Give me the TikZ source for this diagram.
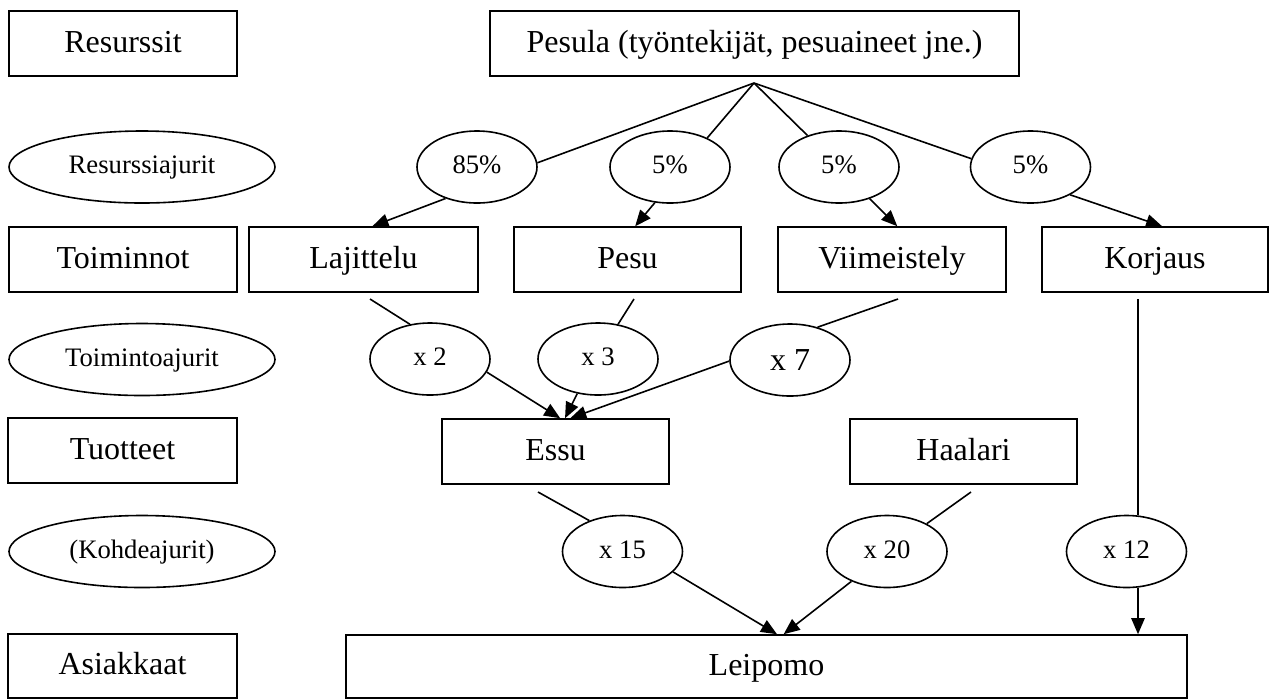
\documentclass[tikz,border=0pt]{standalone}
\usepackage{fontspec}
\setmainfont{Liberation Serif}
\usetikzlibrary{arrows.meta,shapes.geometric}

\begin{document}
\begin{tikzpicture}[x=0.375pt,y=-0.375pt,
  every node/.style={inner sep=0pt, line width=0.6pt},
  box/.style={draw, rectangle, minimum height=24.375pt, text height=9pt, text depth=2.6pt,
    font=\fontsize{12}{14}\selectfont},
  oval/.style={draw, ellipse, minimum width=45pt, minimum height=27pt, text height=7.2pt, text depth=2.2pt,
    font=\fontsize{10}{12}\selectfont},
  bigoval/.style={oval, minimum width=99.75pt},
  link/.style={line width=0.6pt},
  arr/.style={link, -{Triangle[length=6pt,width=5pt]}}
]
\path[fill=white, use as bounding box] (0,0) rectangle (1269,699);

% level 1: resources
\node[box, minimum width=85.5pt] (resurssit) at (123,43.5) {Resurssit};
\node[box, minimum width=198.375pt] (pesula) at (754.5,43.5) {Pesula (työntekijät, pesuaineet jne.)};

% resource drivers
\node[bigoval] (rajurit) at (142,167) {Resurssiajurit};
\node[oval] (p85) at (477,167) {85\%};
\node[oval] (p5a) at (670,167) {5\%};
\node[oval] (p5b) at (839,167) {5\%};
\node[oval] (p5c) at (1030.5,167) {5\%};

% activities
\node[box, minimum width=85.5pt] (toiminnot) at (123,259.5) {Toiminnot};
\node[box, minimum width=85.875pt] (lajittelu) at (363.5,259.5) {Lajittelu};
\node[box, minimum width=85.125pt] (pesu) at (627.5,259.5) {Pesu};
\node[box, minimum width=85.5pt] (viim) at (892,259.5) {Viimeistely};
\node[box, minimum width=84.75pt] (korjaus) at (1155,259.5) {Korjaus};

% activity drivers
\node[bigoval] (tajurit) at (142,359.5) {Toimintoajurit};
\node[oval] (x2) at (430,359) {x 2};
\node[oval] (x3) at (598,359) {x 3};
\node[oval, font=\fontsize{12}{14}\selectfont, text height=9.5pt, text depth=1.5pt] (x7) at (790,360) {x 7};

% products
\node[box, minimum width=85.875pt] (tuotteet) at (122.5,450.5) {Tuotteet};
\node[box, minimum width=85.125pt] (essu) at (555.5,451.5) {Essu};
\node[box, minimum width=85.125pt] (haalari) at (963.5,451.5) {Haalari};

% cost object drivers
\node[bigoval] (kajurit) at (142,551.5) {(Kohdeajurit)};
\node[oval] (x15) at (622.5,551.5) {x 15};
\node[oval] (x20) at (887,551.5) {x 20};
\node[oval] (x12) at (1126.5,551.5) {x 12};

% customers
\node[box, minimum width=85.875pt, minimum height=24pt] (asiakkaat) at (122.5,666) {Asiakkaat};
\node[box, minimum width=315.375pt, minimum height=23.625pt] (leipomo) at (766.5,666.5) {Leipomo};

% loose line ends
\coordinate (apex) at (754,83);
\coordinate (fromLaj) at (370,299);
\coordinate (fromPesu) at (634,299);
\coordinate (fromViim) at (898,299);
\coordinate (fromKorj) at (1138,299);
\coordinate (fromEssu) at (538,492);
\coordinate (fromHaal) at (971,492);

% resources -> resource drivers -> activities
\draw[link] (apex) -- (p85.4);
\draw[link] (apex) -- (p5a.38);
\draw[link] (apex) -- (p5b.135);
\draw[link] (apex) -- (p5c.172);
\draw[arr] (p85.225) -- (lajittelu.75);
\draw[arr] (p5a.247) -- (pesu.77);
\draw[arr] (p5b.314) -- (viim.81);
\draw[arr] (p5c.325) -- (korjaus.78);

% activities -> activity drivers -> products
\draw[link] (fromLaj) -- (x2.120);
\draw[arr] (x2.347) -- (essu.82);
\draw[link] (fromPesu) -- (x3.60);
\draw[arr] (x3.239) -- (essu.74);
\draw[link] (fromViim) -- (x7.50);
\draw[arr] (x7.181) -- (essu.66);

% products -> cost object drivers -> customer
\draw[link] (fromEssu) -- (x15.137);
\draw[arr] (x15.338) -- (leipomo.72);
\draw[link] (fromHaal) -- (x20.35);
\draw[arr] (x20.220) -- (leipomo.62);
\draw[link] (fromKorj) -- (fromKorj |- x12.72);
\draw[arr] (fromKorj |- x12.288) -- (fromKorj |- leipomo.north);
\end{tikzpicture}
\end{document}
